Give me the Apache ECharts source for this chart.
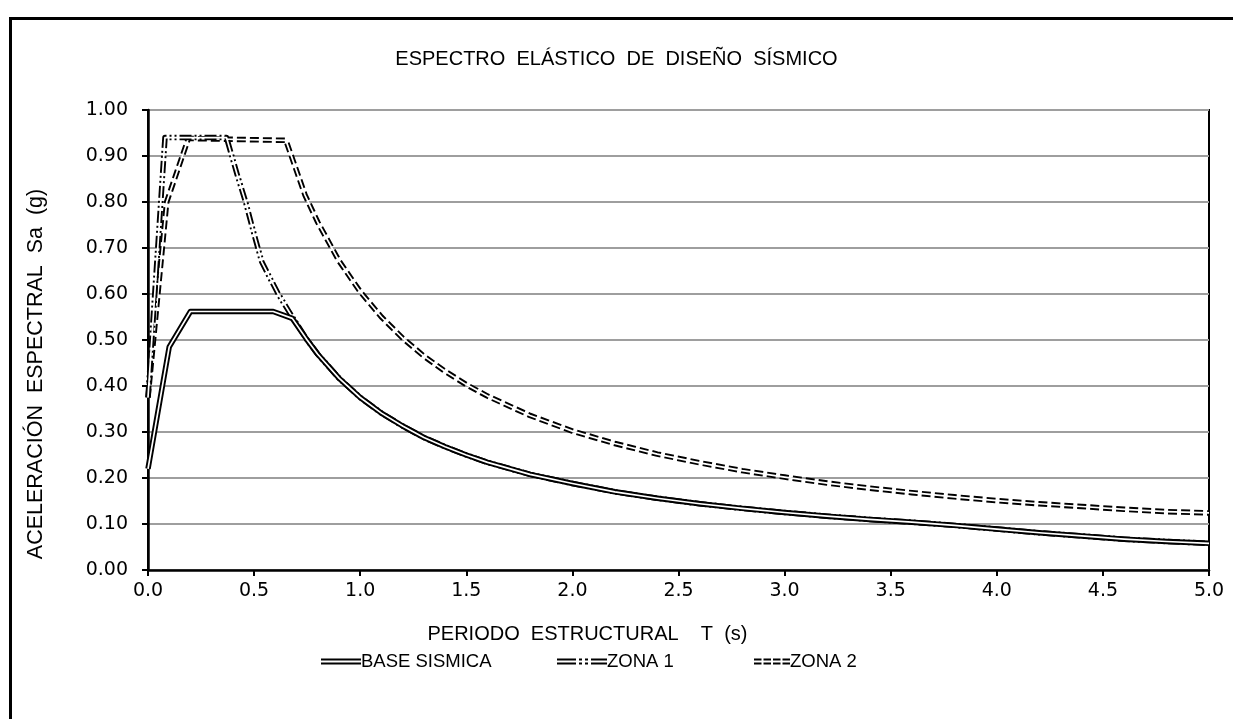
<!DOCTYPE html>
<html>
<head>
<meta charset="utf-8">
<script src="https://cdn.jsdelivr.net/npm/echarts@6/dist/echarts.min.js"></script>
<style>html,body{margin:0;padding:0;background:#fff}#c{width:1233px;height:719px}</style>
</head>
<body>
<div id="c"></div>
<script>
// ---- data ----
const title = 'ESPECTRO  ELÁSTICO  DE  DISEÑO  SÍSMICO';
const xName = 'PERIODO  ESTRUCTURAL    T  (s)';
const yName = 'ACELERACIÓN  ESPECTRAL  Sa  (g)';
const seriesNames = ['BASE SISMICA', 'ZONA 1', 'ZONA 2'];

const baseT  = [0, 0.10, 0.20, 0.59, 0.68, 0.75, 0.80, 0.90, 1.00, 1.10, 1.20, 1.30, 1.40, 1.50, 1.60, 1.80, 2.00, 2.20, 2.40, 2.60, 2.80, 3.00, 3.20, 3.40, 3.60, 3.80, 4.00, 4.20, 4.40, 4.60, 4.80, 5.00];
const baseSa = [0.220, 0.485, 0.562, 0.562, 0.547, 0.500, 0.469, 0.417, 0.375, 0.341, 0.313, 0.288, 0.268, 0.250, 0.234, 0.208, 0.188, 0.170, 0.156, 0.144, 0.134, 0.125, 0.117, 0.110, 0.104, 0.097, 0.089, 0.081, 0.074, 0.067, 0.062, 0.058];

const zona1T  = [0, 0.08, 0.37, 0.42, 0.46, 0.50, 0.536, 0.58, 0.614, 0.68, 0.75, 0.80, 0.90, 1.00, 1.10, 1.20, 1.30, 1.40, 1.50, 1.60, 1.80, 2.00, 2.20, 2.40, 2.60, 2.80, 3.00, 3.20, 3.40, 3.60, 3.80, 4.00, 4.20, 4.40, 4.60, 4.80, 5.00];
const zona1Sa = [0.375, 0.940, 0.940, 0.860, 0.800, 0.730, 0.670, 0.630, 0.600, 0.550, 0.500, 0.469, 0.417, 0.375, 0.341, 0.313, 0.288, 0.268, 0.250, 0.234, 0.208, 0.188, 0.170, 0.156, 0.144, 0.134, 0.125, 0.117, 0.110, 0.104, 0.097, 0.089, 0.081, 0.074, 0.067, 0.062, 0.058];

const zona2T  = [0, 0.088, 0.19, 0.65, 0.74, 0.80, 0.90, 1.00, 1.10, 1.20, 1.30, 1.40, 1.50, 1.60, 1.80, 2.00, 2.20, 2.40, 2.60, 2.80, 3.00, 3.20, 3.40, 3.60, 3.80, 4.00, 4.20, 4.40, 4.60, 4.80, 5.00];
const zona2Sa = [0.375, 0.800, 0.938, 0.934, 0.815, 0.756, 0.672, 0.605, 0.550, 0.504, 0.465, 0.432, 0.403, 0.378, 0.336, 0.302, 0.275, 0.252, 0.233, 0.216, 0.202, 0.189, 0.178, 0.168, 0.159, 0.151, 0.144, 0.138, 0.132, 0.127, 0.124];

const xMin = 0, xMax = 5, xStep = 0.5;
const yMin = 0, yMax = 1, yStep = 0.1;

// ---- build ----
function pairs(t, v) { return t.map((x, i) => [x, v[i]]); }
const textFont = '"Liberation Sans", Arial, sans-serif';
const tickFont = '"DejaVu Sans", sans-serif';

function dbl(name, t, v, dash, z) {
  return [
    { name: name, type: 'line', data: pairs(t, v), showSymbol: false, symbol: 'none', z: z,
      lineStyle: { color: '#000', width: 5.5, type: dash, join: 'round' }, itemStyle: { color: '#000' },
      emphasis: { disabled: true }, silent: true },
    { name: name + ' (in)', type: 'line', data: pairs(t, v), showSymbol: false, symbol: 'none', z: z + 0.5,
      lineStyle: { color: '#fff', width: 1.7, type: 'solid', join: 'round' }, itemStyle: { color: '#fff' },
      emphasis: { disabled: true }, silent: true }
  ];
}

const series = [].concat(
  dbl(seriesNames[2], zona2T, zona2Sa, [9, 4], 2),
  dbl(seriesNames[1], zona1T, zona1Sa, [12, 3, 2, 3, 2, 3], 3),
  dbl(seriesNames[0], baseT, baseSa, 'solid', 4)
);

const icons = [
  'path://M0,0H40V2H0Z M0,4H40V6H0Z',
  'path://M0,0H19V2H0Z M0,4H19V6H0Z M22,0H25V2H22Z M22,4H25V6H22Z M28,0H31V2H28Z M28,4H31V6H28Z M34,0H50V2H34Z M34,4H50V6H34Z',
  'path://M0,0H7.5V2H0Z M0,4H7.5V6H0Z M9.5,0H17V2H9.5Z M9.5,4H17V6H9.5Z M19,0H26.5V2H19Z M19,4H26.5V6H19Z M28.5,0H36V2H28.5Z M28.5,4H36V6H28.5Z'
];
const legendLeft = [316, 552, 749];
const legendW = [40, 50, 36];
const legends = seriesNames.map((n, i) => ({
  data: [{ name: n, icon: icons[i] }],
  left: legendLeft[i], top: 647, itemWidth: legendW[i], itemHeight: 6,
  selectedMode: false,
  itemStyle: { color: '#000', borderWidth: 0 },
  textStyle: { fontFamily: textFont, fontSize: 18.5, color: '#000', padding: [0, 0, 0, -5] }
}));

const chart = echarts.init(document.getElementById('c'), null, { renderer: 'canvas' });
chart.setOption({
  animation: false,
  backgroundColor: '#fff',
  title: { text: title, left: 'center', top: 44,
    textStyle: { fontFamily: textFont, fontSize: 20, fontWeight: 'normal', color: '#000' } },
  legend: legends,
  grid: { left: 148, right: 24, top: 110, bottom: 149, show: true, borderColor: '#000', borderWidth: 2, backgroundColor: 'transparent' },
  xAxis: {
    type: 'value', min: xMin, max: xMax, interval: xStep,
    name: xName, nameLocation: 'middle', nameGap: 54,
    nameTextStyle: { fontFamily: textFont, fontSize: 20, color: '#000', padding: [0, 182, 0, 0] },
    axisLine: { show: true, lineStyle: { color: '#000', width: 2.5 } },
    axisTick: { show: true, length: 6, lineStyle: { color: '#000', width: 2 } },
    axisLabel: { margin: 12, fontFamily: tickFont, fontSize: 19, color: '#000', formatter: v => v.toFixed(1) },
    splitLine: { show: false }
  },
  yAxis: {
    type: 'value', min: yMin, max: yMax, interval: yStep,
    name: yName, nameLocation: 'middle', nameGap: 101, nameRotate: 90,
    nameTextStyle: { fontFamily: textFont, fontSize: 21.5, color: '#000', padding: [0, 68, 0, 0] },
    axisLine: { show: true, lineStyle: { color: '#000', width: 2.5 } },
    axisTick: { show: true, length: 6, lineStyle: { color: '#000', width: 2 } },
    axisLabel: { margin: 20, fontFamily: tickFont, fontSize: 19, color: '#000', formatter: v => v.toFixed(2) },
    splitLine: { show: true, lineStyle: { color: '#9e9e9e', width: 2 } }
  },
  graphic: [{ type: 'rect', left: 8, top: 16, silent: true,
    shape: { width: 1400, height: 900 }, style: { fill: 'none', stroke: '#000', lineWidth: 3 } }],
  series: series
});
</script>
</body>
</html>
